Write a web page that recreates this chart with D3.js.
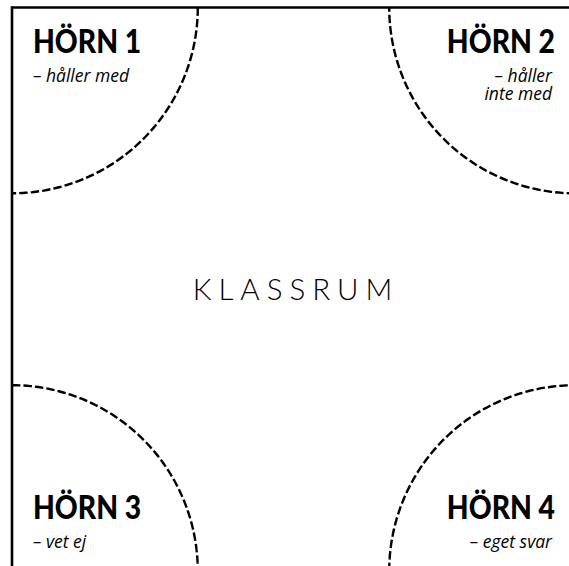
<!DOCTYPE html>
<html>
<head>
<meta charset="utf-8">
<script src="https://cdn.jsdelivr.net/npm/d3@7"></script>
<style>
  html, body { margin: 0; padding: 0; background: #fff; }
  svg { display: block; }
</style>
</head>
<body>
<div id="chart"></div>
<script>
// hörnen i klassrummet
const corners = ["tl", "tr", "bl", "br"];
const cornerTitles = ["HÖRN 1", "HÖRN 2", "HÖRN 3", "HÖRN 4"];
const cornerTexts = [["– håller med"], ["– håller", "inte med"], ["– vet ej"], ["– eget svar"]];
const roomLabel = "KLASSRUM";
const zoneRadius = 0.33; // andel av rummets bredd

const width = 569, height = 566;

const svg = d3.select("#chart").append("svg")
    .attr("width", width)
    .attr("height", height);

// rummet går lite utanför bilden till höger och nedåt
const x = d3.scaleLinear().domain([0, 1]).range([12, 575]);
const y = d3.scaleLinear().domain([0, 1]).range([7.5, 571]);

// väggar (bara vänster och övre syns)
svg.append("line")
    .attr("x1", x(0)).attr("y1", y(0))
    .attr("x2", x(1)).attr("y2", y(0))
    .attr("stroke", "#000").attr("stroke-width", 2.6);
svg.append("line")
    .attr("x1", x(0)).attr("y1", y(0) - 1.3)
    .attr("x2", x(0)).attr("y2", y(1))
    .attr("stroke", "#000").attr("stroke-width", 2.6);

// streckade kvartscirklar i hörnen
const r = x(zoneRadius) - x(0);
const arcAngles = {
    tl: [Math.PI / 2, Math.PI],
    tr: [Math.PI, 1.5 * Math.PI],
    bl: [0, Math.PI / 2],
    br: [1.5 * Math.PI, 2 * Math.PI]
};
const cx = c => c[1] === "l" ? x(0) : x(1);
const cy = c => c[0] === "t" ? y(0) : y(1);

svg.selectAll("path.zone")
    .data(corners)
    .enter()
    .append("path")
    .attr("class", "zone")
    .attr("transform", d => `translate(${cx(d)},${cy(d)})`)
    .attr("d", d => d3.arc()({innerRadius: r, outerRadius: r, startAngle: arcAngles[d][0], endAngle: arcAngles[d][1]}))
    .attr("fill", "none")
    .attr("stroke", "#000")
    .attr("stroke-width", 2.4)
    .attr("stroke-dasharray", "7,4.5");

// rubriker
const titleX = c => c[1] === "l" ? 33 : 555;
const titleY = c => c[0] === "t" ? 53 : 519;

const g = svg.selectAll("g.corner")
    .data(corners)
    .enter()
    .append("g")
    .attr("class", "corner");

g.append("text")
    .attr("transform", d => `translate(${titleX(d)},${titleY(d)}) scale(0.87,1)`)
    .attr("text-anchor", d => d[1] === "l" ? "start" : "end")
    .attr("font-family", "Lato, sans-serif")
    .attr("font-weight", 900)
    .attr("font-size", 32.5)
    .attr("fill", "#000")
    .text((d, i) => cornerTitles[i]);

// underrubriker, en text per rad
g.each(function(d, i) {
    cornerTexts[i].forEach((line, j) => {
        d3.select(this).append("text")
            .attr("x", d[1] === "l" ? 33 : 552)
            .attr("y", titleY(d) + 29 + j * 18)
            .attr("text-anchor", d[1] === "l" ? "start" : "end")
            .attr("font-family", "'Open Sans', sans-serif")
            .attr("font-style", "italic")
            .attr("font-size", 17.5)
            .attr("fill", "#000")
            .text(line);
    });
});

// klassrummet i mitten
const ls = 7;
svg.append("text")
    .attr("x", (x(0) + x(1)) / 2 - 1 + ls / 2)
    .attr("y", (y(0) + y(1)) / 2 + 10.5)
    .attr("text-anchor", "middle")
    .attr("font-family", "Lato, sans-serif")
    .attr("font-weight", 300)
    .attr("font-size", 29.5)
    .attr("letter-spacing", ls + "px")
    .attr("fill", "#000")
    .text(roomLabel);
</script>
</body>
</html>
